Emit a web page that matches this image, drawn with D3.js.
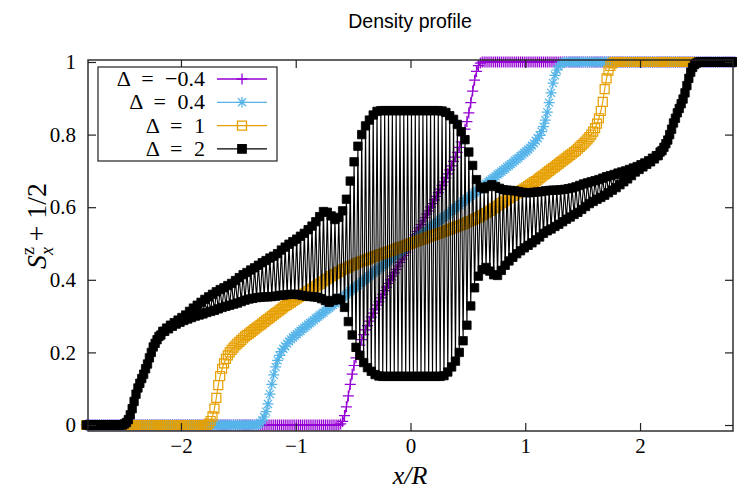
<!DOCTYPE html>
<html><head><meta charset="utf-8">
<script src="https://cdn.jsdelivr.net/npm/d3@7"></script>
<style>body{margin:0;background:#fff}svg{display:block}</style>
</head><body>
<svg id="c" width="737" height="491"></svg>
<script>
// ---- data ----
const R = 60; // sites per unit of x/R
const titleText = "Density profile";
const xTicks = [-2, -1, 0, 1, 2];
const xTickLabels = ["−2", "−1", "0", "1", "2"];
const yTicks = [0, 0.2, 0.4, 0.6, 0.8, 1];
const yTickLabels = ["0", "0.2", "0.4", "0.6", "0.8", "1"];
const seriesNames = ["Δ = −0.4", "Δ = 0.4", "Δ = 1", "Δ = 2"];
const seriesColors = ["#9400d3", "#56b4e9", "#e69f00", "#000000"];

const dMinus04 = [
0,0,0,0,0,0,0,0,0,0, 0,0,0,0,0,0,0,0,0,0, 0,0,0,0,0,0,0,0,0,0, 0,0,0,0,0,0,0,0,0,0,
0,0,0,0,0,0,0,0,0,0, 0,0,0,0,0,0,0,0,0,0, 0,0,0,0,0,0,0,0,0,0, 0,0,0,0,0,0,0,0,0,0,
0,0,0,0,0,0,0,0,0,0, 0,0,0,0,0,0,0,0,0,0, 0,0,0,0,0,0,0,0,0,0, 0,0,0,0,0,0,0,0,0,0,
0,0,0,0,0,0,0,0,0,0, 0,0,0,
.003,.010,.026,.050,.080,.112,.140,.164,.185,.203,.220,.235,.249,.262,.274,.286,.297,.308,.319,.330,
.340,.350,.360,.370,.380,.390,.400,.410,.419,.429,.438,.448,.457,.467,.476,.486,.495,
.505,.514,.524,.533,.543,.552,.562,.571,.581,.590,.600,.610,.620,.630,.640,.650,.660,.670,.681,.692,
.703,.714,.726,.738,.751,.765,.780,.797,.815,.836,.860,.888,.920,.950,.974,.990,.997,
1,1,1,1,1,1,1,1,1,1, 1,1,1,1,1,1,1,1,1,1, 1,1,1,1,1,1,1,1,1,1, 1,1,1,1,1,1,1,1,1,1,
1,1,1,1,1,1,1,1,1,1, 1,1,1,1,1,1,1,1,1,1, 1,1,1,1,1,1,1,1,1,1, 1,1,1,1,1,1,1,1,1,1,
1,1,1,1,1,1,1,1,1,1, 1,1,1,1,1,1,1,1,1,1, 1,1,1,1,1,1,1,1,1,1, 1,1,1,1,1,1,1,1,1,1,
1,1,1,1,1,1,1,1,1,1, 1,1,1
];

const d04 = [
0,0,0,0,0,0,0,0,0,0, 0,0,0,0,0,0,0,0,0,0, 0,0,0,0,0,0,0,0,0,0, 0,0,0,0,0,0,0,0,0,0,
0,0,0,0,0,0,0,0,0,0, 0,0,0,0,0,0,0,0,0,0, 0,0,0,0,0,0,0,0,0,0, 0,0,0,0,0,0,0,0,0,0,
0,0,0,0,0,0,0,0,0,0,
.002,.006,.012,.022,.037,.058,.085,.112,.138,.160,
.178,.192,.202,.210,.217,.224,.230,.236,.241,.246,
.250,.255,.259,.264,.268,.272,.277,.281,.285,.289,
.294,.298,.302,.306,.310,.315,.319,.323,.327,.331,
.335,.340,.344,.348,.352,.356,.360,.365,.369,.373,
.377,.381,.385,.390,.394,.398,.402,.406,.410,.415,
.419,.423,.427,.431,.435,.440,.444,.448,.452,.456,
.460,.465,.469,.473,.477,.481,.485,.490,.494,.498,
.502,.506,.510,.515,.519,.523,.527,.531,.535,.540,
.544,.548,.552,.556,.560,.565,.569,.573,.577,.581,
.585,.590,.594,.598,.602,.606,.610,.615,.619,.623,
.627,.631,.635,.640,.644,.648,.652,.656,.660,.665,
.669,.673,.677,.681,.685,.690,.694,.698,.702,.706,
.711,.715,.719,.723,.728,.732,.736,.741,.745,.750,
.754,.759,.764,.770,.776,.783,.790,.798,.808,.822,
.840,.862,.888,.915,.942,.963,.978,.988,.994,.998,
1,1,1,1,1,1,1,1,1,1, 1,1,1,1,1,1,1,1,1,1, 1,1,1,1,1,1,1,1,1,1, 1,1,1,1,1,1,1,1,1,1,
1,1,1,1,1,1,1,1,1,1, 1,1,1,1,1,1,1,1,1,1, 1,1,1,1,1,1,1,1,1,1, 1,1,1,1,1,1,1,1,1,1,
1,1,1,1,1,1,1,1,1,1
];

const d1 = [
0,0,0,0,0,0,0,0,0,0, 0,0,0,0,0,0,0,0,0,0, 0,0,0,0,0,0,0,0,0,0, 0,0,0,0,0,0,0,0,0,0,
0,0,0,0,0,0,0,0,0,0, 0,0,0,0,0,0,0,0,0,0, 0,0,0,0,
.004,.011,.024,.045,.075,.110,
.135,.155,.170,.182,.192,.200,.207,.213,.219,.224,
.229,.234,.239,.244,.248,.252,.256,.260,.264,.268,
.272,.276,.280,.284,.288,.292,.296,.300,.304,.308,
.312,.316,.320,.324,.328,.331,.335,.338,.342,.345,
.349,.352,.355,.359,.362,.365,.369,.372,.375,.379,
.382,.386,.389,.393,.396,.400,.403,.406,.410,.413,
.416,.419,.422,.425,.428,.430,.433,.435,.438,.440,
.442,.445,.447,.449,.451,.453,.455,.457,.459,.461,
.463,.465,.467,.469,.471,.472,.474,.476,.478,.480,
.482,.484,.486,.488,.490,.491,.493,.495,.497,.499,
.501,.503,.505,.507,.509,.510,.512,.514,.516,.518,
.520,.522,.524,.526,.528,.529,.531,.533,.535,.537,
.539,.541,.543,.545,.547,.549,.551,.553,.555,.558,
.560,.562,.565,.567,.570,.572,.575,.578,.581,.584,
.587,.590,.594,.597,.600,.604,.607,.611,.614,.618,
.621,.625,.628,.631,.635,.638,.641,.645,.648,.651,
.655,.658,.662,.665,.669,.672,.676,.680,.684,.688,
.692,.696,.700,.704,.708,.712,.716,.720,.724,.728,
.732,.736,.740,.744,.748,.752,.756,.761,.766,.771,
.776,.781,.787,.793,.800,.808,.818,.830,.845,.865,
.890,.925,.955,.976,.989,.996,
1,1,1,1,1,1,1,1,1,1, 1,1,1,1,1,1,1,1,1,1, 1,1,1,1,1,1,1,1,1,1, 1,1,1,1,1,1,1,1,1,1,
1,1,1,1,1,1,1,1,1,1, 1,1,1,1,1,1,1,1,1,1, 1,1,1,1
];

const d2 = [
0,0,0,0,0,0,0,0,0,0, 0,0,0,0,0,0,0,0,0,0,
.003,.007,.015,.028,.045,.065,.085,.102,.115,.128,
.140,.155,.168,.185,.200,.215,.225,.235,.244,.248,
.258,.258,.267,.265,.275,.272,.282,.278,.289,.283,
.296,.288,.303,.292,.313,.296,.322,.300,.330,.303,
.338,.306,.346,.310,.353,.313,.360,.316,.367,.320,
.373,.324,.378,.327,.384,.330,.390,.333,.398,.336,
.406,.340,.414,.344,.420,.347,.427,.349,.433,.351,
.440,.352,.447,.353,.453,.353,.460,.354,.465,.355,
.472,.357,.482,.358,.490,.359,.498,.360,.505,.360,
.512,.359,.520,.357,.528,.355,.538,.354,.548,.353,
.560,.352,.574,.348,.588,.343,.586,.338,.576,.343,
.566,.349,.572,.345,.590,.324,.622,.285,.672,.248,
.725,.214,.768,.192,.800,.172,.824,.158,.840,.148,
.854,.139,.864,.135,
.866,.134,.866,.134,.866,.134,.866,.134,.866,.134,.866,.134,.866,.134,.866,.134,
.866,.134,.866,.134,.866,.134,.866,.134,.866,.134,.866,.134,.866,.134,.866,.134,
.865,.136,.861,.146,.852,.160,.842,.176,.828,.200,
.808,.232,.786,.275,.752,.328,.715,.378,.676,.410,
.655,.428,.651,.434,.657,.424,.662,.414,.657,.412,
.652,.426,.648,.440,.647,.452,.646,.462,.645,.472,
.643,.480,.641,.488,.640,.495,.640,.502,.641,.510,
.642,.518,.643,.528,.645,.535,.646,.540,.647,.547,
.647,.553,.648,.560,.649,.567,.651,.573,.653,.580,
.656,.586,.660,.594,.664,.602,.667,.610,.670,.616,
.673,.622,.676,.627,.680,.633,.684,.640,.687,.647,
.690,.654,.694,.662,.697,.670,.700,.678,.704,.687,
.708,.697,.712,.704,.717,.711,.722,.718,.728,.725,
.735,.733,.742,.742,.752,.756,.765,.775,.785,.800,
.815,.832,.845,.860,.872,.885,.898,.915,.935,.955,
.972,.985,.993,.997,
1,1,1,1,1,1,1,1,1,1, 1,1,1,1,1,1,1,1,1,1
];

const seriesValues = [dMinus04, d04, d1, d2];

// ---- chart ----
const svg = d3.select("#c");
const L = 88, Rt = 733, T = 60, B = 431;
const x = d3.scaleLinear().domain([-2.81, 2.81]).range([L, Rt]);
const y = d3.scaleLinear().domain([-0.0165, 1.0055]).range([B, T]);
const serif = '"Liberation Serif", "DejaVu Serif", serif';

const markers = [
  "M-5.5,0H5.5M0,-5.5V5.5",
  "M-5.5,0H5.5M0,-5.5V5.5M-4,-4L4,4M-4,4L4,-4",
  "M-4.5,-4.5H4.5V4.5H-4.5Z",
  "M-4.2,-4.2H4.2V4.2H-4.2Z"
];
const markerFill = ["none", "none", "none", "#000"];

const plot = svg.append("g");
seriesValues.forEach((vals, s) => {
  const n = vals.length;
  const pts = vals.map((v, i) => [(i - (n - 1) / 2) / R, v]);
  const g = plot.append("g");
  g.append("path")
    .attr("d", d3.line().x(d => x(d[0])).y(d => y(d[1]))(pts))
    .attr("fill", "none").attr("stroke", seriesColors[s]).attr("stroke-width", 1.1);
  g.selectAll("path.m").data(pts).enter().append("path")
    .attr("class", "m")
    .attr("d", markers[s])
    .attr("transform", d => `translate(${x(d[0])},${y(d[1])})`)
    .attr("fill", markerFill[s])
    .attr("stroke", seriesColors[s]).attr("stroke-width", s === 3 ? 0.8 : 1.2);
});

// frame
svg.append("rect").attr("x", L).attr("y", T).attr("width", Rt - L).attr("height", B - T)
  .attr("fill", "none").attr("stroke", "#222").attr("stroke-width", 1.4);

// axes (gnuplot style: inward ticks on all sides)
const axB = svg.append("g").attr("transform", `translate(0,${B})`)
  .call(d3.axisBottom(x).tickValues(xTicks).tickSizeInner(-8).tickSizeOuter(0).tickPadding(7)
    .tickFormat((d, i) => xTickLabels[i]));
const axT = svg.append("g").attr("transform", `translate(0,${T})`)
  .call(d3.axisTop(x).tickValues(xTicks).tickSizeInner(-8).tickSizeOuter(0).tickFormat(""));
const axL = svg.append("g").attr("transform", `translate(${L},0)`)
  .call(d3.axisLeft(y).tickValues(yTicks).tickSizeInner(-8).tickSizeOuter(0).tickPadding(12)
    .tickFormat((d, i) => yTickLabels[i]));
const axR = svg.append("g").attr("transform", `translate(${Rt},0)`)
  .call(d3.axisRight(y).tickValues(yTicks).tickSizeInner(-8).tickSizeOuter(0).tickFormat(""));
[axB, axT, axL, axR].forEach(a => {
  a.attr("font-family", null).attr("font-size", null);
  a.select(".domain").remove();
  a.selectAll("line").attr("stroke", "#222").attr("stroke-width", 1.2);
  a.selectAll("text").style("font-family", serif).style("font-size", "21px").attr("fill", "#000");
});

// title
svg.append("text").attr("x", 410).attr("y", 28).attr("text-anchor", "middle")
  .style("font-family", '"Liberation Sans", Arial, sans-serif').style("font-size", "19.5px")
  .text(titleText);

// x label
svg.append("text").attr("x", 410).attr("y", 484).attr("text-anchor", "middle")
  .style("font-family", serif).style("font-size", "26px").style("font-style", "italic")
  .text("x/R");

// y label
const yl = svg.append("text").attr("transform", "translate(46,226) rotate(-90)")
  .attr("text-anchor", "middle").style("font-family", serif).style("font-size", "28px");
yl.append("tspan").style("font-style", "italic").text("S");
yl.append("tspan").style("font-size", "18px").attr("dy", -12).text("z");
yl.append("tspan").style("font-size", "18px").style("font-style", "italic").attr("dx", -8).attr("dy", 19).text("x");
yl.append("tspan").attr("dy", -7).text("\u2009+ 1/2");

// legend
const lg = svg.append("g");
lg.append("rect").attr("x", 98).attr("y", 67).attr("width", 179).attr("height", 94)
  .attr("fill", "#fff").attr("stroke", "#222").attr("stroke-width", 1.2);
seriesNames.forEach((name, s) => {
  const cy = 79 + s * 23.3;
  lg.append("text").attr("x", 205).attr("y", cy + 7).attr("text-anchor", "end")
    .style("font-family", serif).style("font-size", "22px").style("word-spacing", "6px")
    .text(name);
  lg.append("line").attr("x1", 217).attr("x2", 267).attr("y1", cy).attr("y2", cy)
    .attr("stroke", seriesColors[s]).attr("stroke-width", 1.3);
  lg.append("path").attr("d", markers[s]).attr("transform", `translate(242,${cy})`)
    .attr("fill", markerFill[s]).attr("stroke", seriesColors[s]).attr("stroke-width", 1.3);
});
</script>
</body></html>
